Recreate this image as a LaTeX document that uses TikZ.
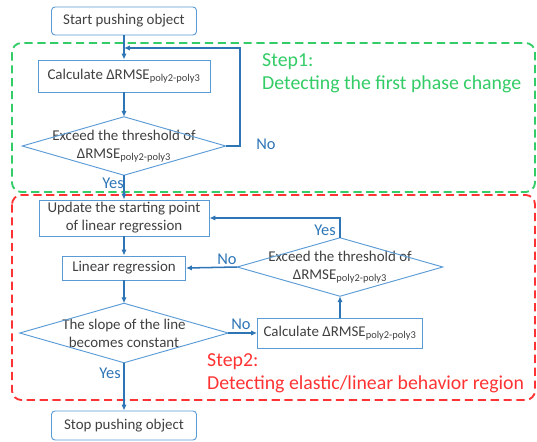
\documentclass[tikz,border=0pt]{standalone}
\usepackage{fontspec}
\setmainfont{Carlito}
\usetikzlibrary{arrows.meta}

\definecolor{boxblue}{HTML}{5B9BD5}
\definecolor{lineblue}{HTML}{2E75B6}
\definecolor{textgray}{HTML}{404040}
\definecolor{stepgreen}{HTML}{33CC66}
\definecolor{stepred}{HTML}{FF3333}

\newcommand{\drmse}{ΔRMSE\textsubscript{poly2-poly3}}

\begin{document}
\begin{tikzpicture}[x=0.03cm, y=-0.03cm, font=\fontsize{12.75}{15.3}\selectfont]
				\tikzstyle{myboxstyle} = [draw=boxblue, line width=0.8pt, text=textgray, align=center, inner sep=2pt]
				\tikzstyle{myendstyle} = [myboxstyle, rounded corners=3pt]
				\tikzstyle{mydecstyle} = [text=textgray, align=center, inner sep=0pt]
				\tikzstyle{myedgestyle} = [lineblue, line width=1.3pt, -{Latex[length=5pt,width=4.5pt]}]
				\tikzstyle{mylabelstyle} = [text=lineblue, inner sep=1pt, font=\fontsize{14}{16}\selectfont]
				\tikzstyle{mysteptext} = [font=\fontsize{16.9}{19.5}\selectfont, align=left, anchor=west, inner sep=0pt]
				\useasboundingbox (0,0) rectangle (537,441);
				
				% regions
				\draw [stepgreen, line width=1.6pt, dash pattern=on 7pt off 4pt, rounded corners=8pt] (12,43) rectangle (535,192);
				\draw [stepred, line width=1.6pt, dash pattern=on 7pt off 4pt, rounded corners=8pt] (12,195) rectangle (535,400);
				\node [mysteptext, text=stepgreen] (S1) at (262,73.5) {Step1:\\Detecting the first phase change};
				\node [mysteptext, text=stepred] (S2) at (207,373.5) {Step2:\\Detecting elastic/linear behavior region};
				
				% main column
				\node [myendstyle, minimum width=4.35cm, minimum height=0.84cm] (A1) at (124,21) {Start pushing object};
				\node [myboxstyle, minimum width=5.16cm, minimum height=0.96cm] (A2) at (124,76) {Calculate \drmse};
				\node [mydecstyle, minimum width=6.09cm, minimum height=1.74cm] (A3) at (124,146) {Exceed the threshold of\\\drmse};
				\node [myboxstyle, minimum width=5.1cm, minimum height=1.08cm] (B1) at (124,218) {Update the starting point\\of linear regression};
				\node [myboxstyle, minimum width=3.69cm, minimum height=0.72cm] (B2) at (124,268) {Linear regression};
				\node [mydecstyle, minimum width=6.24cm, minimum height=1.77cm] (B3) at (124,333) {The slope of the line\\becomes constant};
				\node [myendstyle, minimum width=4.35cm, minimum height=0.87cm] (B4) at (124,425.5) {Stop pushing object};
				
				% right column
				\node [myboxstyle, minimum width=4.95cm, minimum height=0.9cm] (C1) at (340,333) {Calculate \drmse};
				\node [mydecstyle, minimum width=6.15cm, minimum height=1.74cm] (C2) at (340,267) {Exceed the threshold of\\\drmse};
				
				% diamonds
				\draw [boxblue, line width=0.8pt] (A3.west) -- (A3.north) -- (A3.east) -- (A3.south) -- cycle;
				\draw [boxblue, line width=0.8pt] (B3.west) -- (B3.north) -- (B3.east) -- (B3.south) -- cycle;
				\draw [boxblue, line width=0.8pt] (C2.west) -- (C2.north) -- (C2.east) -- (C2.south) -- cycle;
				
				\coordinate (L1) at (240,48);
				\coordinate (L2) at (124,48);
				
				\node [mylabelstyle] (N1) at (266,144) {No};
				\node [mylabelstyle] (Y1) at (113,183) {Yes};
				\node [mylabelstyle] (Y2) at (325,230) {Yes};
				\node [mylabelstyle] (N2) at (227,259) {No};
				\node [mylabelstyle] (N3) at (241,324) {No};
				\node [mylabelstyle] (Y3) at (110,373) {Yes};
				
				\draw [myedgestyle] (A1) -- (A2);
				\draw [myedgestyle] (A2) -- (A3.north);
				\draw [myedgestyle] (A3.east) -| (L1) -- (L2);
				\draw [myedgestyle] (A3.south) -- (B1);
				\draw [myedgestyle] (B1) -- (B2);
				\draw [myedgestyle] (B2) -- (B3.north);
				\draw [myedgestyle] (B3.east) -- (C1.west);
				\draw [myedgestyle] (C1) -- (C2.south);
				\draw [myedgestyle] (C2.west) -- (B2.east);
				\draw [myedgestyle] (C2.north) |- (B1.east);
				\draw [myedgestyle] (B3.south) -- (B4);
				
				\end{tikzpicture}
\end{document}
